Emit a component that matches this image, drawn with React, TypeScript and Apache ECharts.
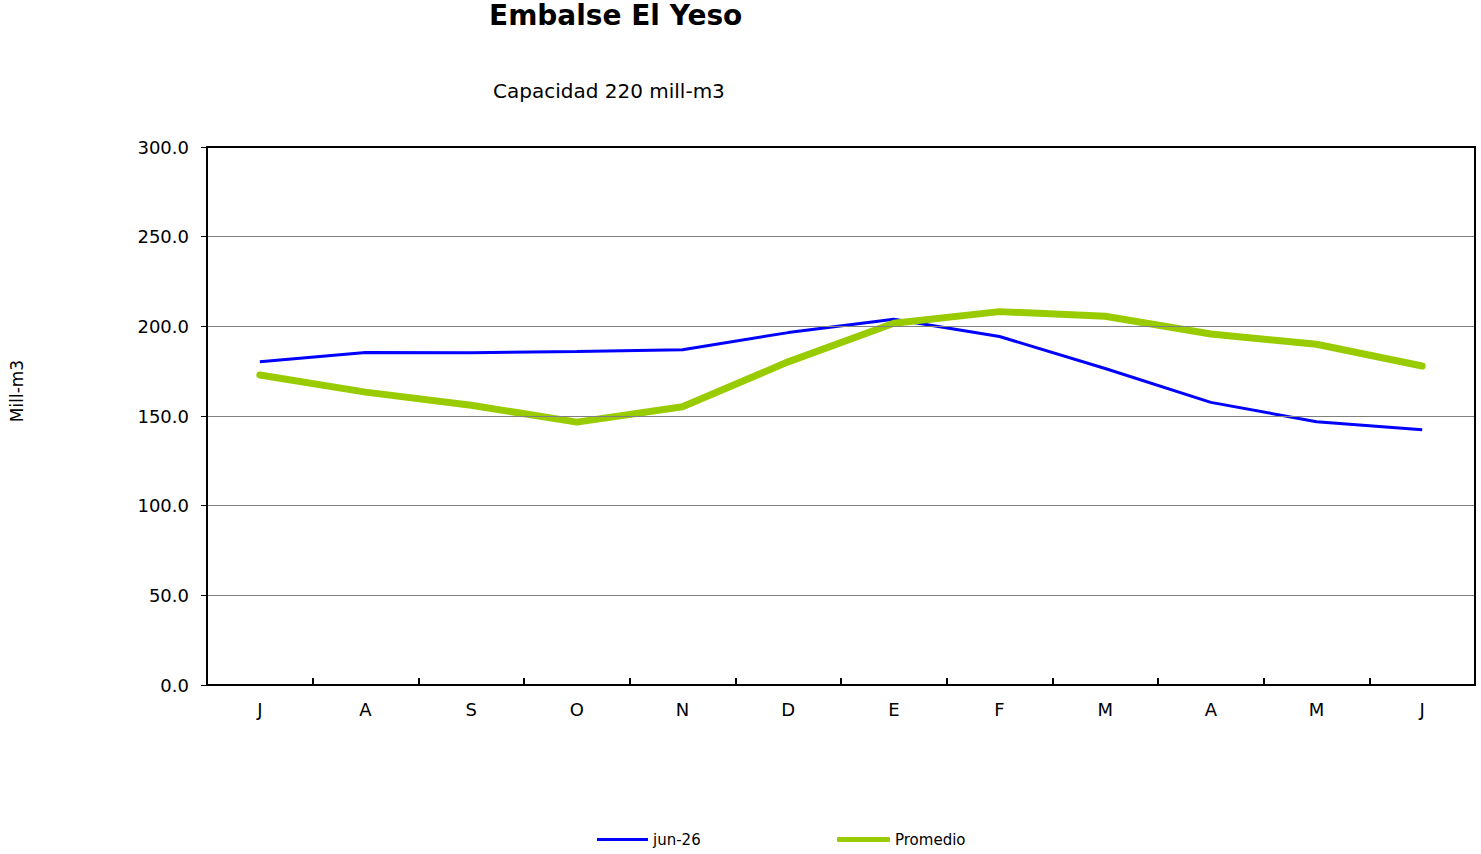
import React, { useEffect, useRef } from "react";
import * as echarts from "echarts";

const months = ["J", "A", "S", "O", "N", "D", "E", "F", "M", "A", "M", "J"];
const jun26 = [180.3, 185.4, 185.3, 185.9, 187.0, 196.5, 203.9, 194.3, 176.5, 157.6, 146.8, 142.4];
const promedio = [172.9, 163.3, 156.0, 146.6, 155.2, 180.2, 201.7, 208.2, 205.6, 195.7, 190.0, 177.9];
const seriesNames = ["jun-26", "Promedio"];
const titleText = "Embalse El Yeso";
const subtitleText = "Capacidad 220 mill-m3";
const yAxisName = "Mill-m3";

const FONT = "DejaVu Sans";

export default function App() {
  const ref = useRef<HTMLDivElement>(null);

  useEffect(() => {
    if (!ref.current) return;
    const chart = echarts.init(ref.current, null, { renderer: "svg" });
    chart.setOption({
      animation: false,
      backgroundColor: "#ffffff",
      textStyle: { fontFamily: FONT, color: "#000" },
      title: [
        {
          text: titleText,
          left: 489,
          top: 1,
          padding: 0,
          textStyle: { fontFamily: FONT, fontSize: 28, fontWeight: "bold", color: "#000" },
        },
        {
          text: subtitleText,
          left: 493,
          top: 81,
          padding: 0,
          textStyle: { fontFamily: FONT, fontSize: 20, fontWeight: "normal", color: "#000" },
        },
      ],
      legend: [
        {
          data: [seriesNames[0]],
          left: 597,
          top: 832,
          padding: 0,
          icon: "rect",
          itemWidth: 51,
          itemHeight: 3,
          itemStyle: { borderWidth: 0 },
          textStyle: { fontFamily: FONT, fontSize: 15, color: "#000" },
        },
        {
          data: [seriesNames[1]],
          left: 837,
          top: 832,
          padding: 0,
          icon: "roundRect",
          itemWidth: 53,
          itemHeight: 5,
          itemStyle: { borderWidth: 0 },
          textStyle: { fontFamily: FONT, fontSize: 15, color: "#000" },
        },
      ],
      grid: { left: 204, right: 6, top: 147, bottom: 169, containLabel: false },
      xAxis: [
        {
          type: "category",
          data: months,
          boundaryGap: true,
          position: "bottom",
          axisLine: { show: true, lineStyle: { color: "#000", width: 2 } },
          axisTick: { show: true, inside: true, length: 7, interval: 0, lineStyle: { color: "#000", width: 2 } },
          axisLabel: { interval: 0, margin: 15, fontSize: 18, color: "#000", fontFamily: FONT },
          splitLine: { show: false },
          z: 5,
        },
        {
          type: "category",
          data: months,
          position: "top",
          axisLine: { show: true, onZero: false, lineStyle: { color: "#000", width: 2 } },
          axisTick: { show: false },
          axisLabel: { show: false },
          splitLine: { show: false },
          z: 5,
        },
      ],
      yAxis: [
        {
          type: "value",
          min: 0,
          max: 300,
          interval: 50,
          position: "left",
          name: yAxisName,
          nameLocation: "middle",
          nameGap: 182,
          nameRotate: 90,
          nameTextStyle: { fontFamily: FONT, fontSize: 17, color: "#000", padding: [0, 0, 0, 50] },
          axisLine: { show: true, lineStyle: { color: "#000", width: 2 } },
          axisTick: { show: true, inside: false, length: 6, lineStyle: { color: "#000", width: 1 } },
          axisLabel: {
            margin: 18,
            fontSize: 18,
            color: "#000",
            fontFamily: FONT,
            formatter: (v: number) => v.toFixed(1),
          },
          splitLine: { show: true, showMaxLine: false, showMinLine: false, lineStyle: { color: "#808080", width: 1 } },
          z: 5,
        },
        {
          type: "value",
          min: 0,
          max: 300,
          interval: 50,
          position: "right",
          axisLine: { show: true, onZero: false, lineStyle: { color: "#000", width: 2 } },
          axisTick: { show: false },
          axisLabel: { show: false },
          splitLine: { show: false },
          z: 5,
        },
      ],
      series: [
        {
          name: seriesNames[0],
          type: "line",
          data: jun26,
          symbol: "none",
          color: "#0000FF",
          lineStyle: { color: "#0000FF", width: 3 },
          z: 3,
        },
        {
          name: seriesNames[1],
          type: "line",
          data: promedio,
          symbol: "none",
          color: "#99CC00",
          lineStyle: { color: "#99CC00", width: 7, cap: "round", join: "round" },
          z: 4,
        },
      ],
    });
    return () => chart.dispose();
  }, []);

  return (
    <div
      ref={ref}
      style={{ position: "fixed", left: 0, top: 0, width: 1481, height: 854, background: "#fff" }}
    />
  );
}
